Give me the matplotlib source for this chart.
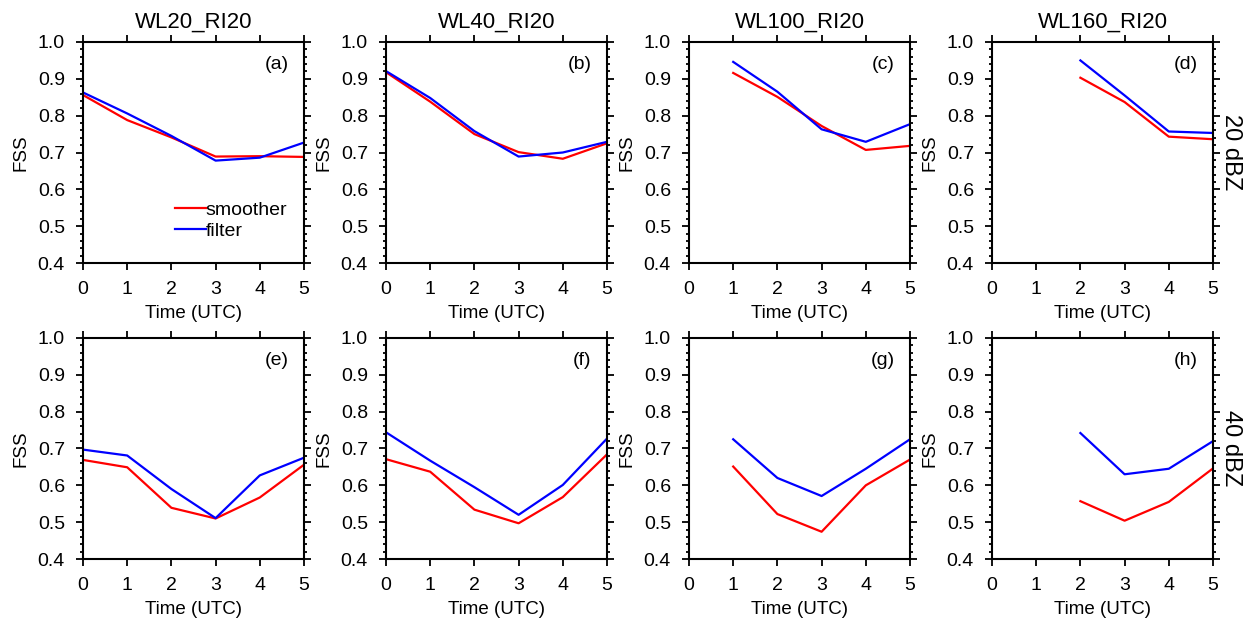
import matplotlib
matplotlib.use("Agg")
import matplotlib.pyplot as plt
from matplotlib.ticker import MultipleLocator

plt.rcParams['font.family'] = ['Liberation Sans', 'DejaVu Sans']

# Time axis (UTC hours)
hours = [0, 1, 2, 3, 4, 5]

titles = ['WL20_RI20', 'WL40_RI20', 'WL100_RI20', 'WL160_RI20']
panel_tags = ['(a)', '(b)', '(c)', '(d)', '(e)', '(f)', '(g)', '(h)']
row_labels = ['20 dBZ', '40 dBZ']

# start hour of each column's series
start_hour = [0, 0, 1, 2]

# 20 dBZ row
smoother_20 = [
    [0.856, 0.788, 0.741, 0.689, 0.690, 0.688],
    [0.918, 0.838, 0.750, 0.701, 0.683, 0.725],
    [0.916, 0.851, 0.772, 0.707, 0.718],
    [0.903, 0.837, 0.743, 0.736],
]
filter_20 = [
    [0.863, 0.806, 0.745, 0.678, 0.686, 0.727],
    [0.921, 0.848, 0.758, 0.689, 0.700, 0.729],
    [0.946, 0.865, 0.763, 0.729, 0.777],
    [0.950, 0.855, 0.757, 0.753],
]

# 40 dBZ row
smoother_40 = [
    [0.669, 0.649, 0.539, 0.510, 0.567, 0.656],
    [0.671, 0.637, 0.534, 0.497, 0.568, 0.684],
    [0.651, 0.522, 0.474, 0.600, 0.670],
    [0.557, 0.504, 0.555, 0.646],
]
filter_40 = [
    [0.697, 0.681, 0.590, 0.511, 0.627, 0.675],
    [0.744, 0.667, 0.595, 0.520, 0.601, 0.727],
    [0.725, 0.620, 0.571, 0.645, 0.725],
    [0.742, 0.630, 0.645, 0.720],
]

fig = plt.figure(figsize=(12.59, 6.25), dpi=100)
W, H = 1259.0, 625.0
lefts = [83, 386, 689, 992]
tops = [42, 338]
size = 221

rows = [(smoother_20, filter_20), (smoother_40, filter_40)]
for r, (smo, fil) in enumerate(rows):
    for c in range(4):
        ax = fig.add_axes([lefts[c] / W, 1 - (tops[r] + size) / H, size / W, size / H])
        x = hours[start_hour[c]:]
        ax.plot(x, smo[c], color='red', lw=1.6, label='smoother')
        ax.plot(x, fil[c], color='blue', lw=1.6, label='filter')

        ax.set_xlim(0, 5)
        ax.set_ylim(0.4, 1.0)
        ax.set_xticks(hours)
        ax.yaxis.set_major_locator(MultipleLocator(0.1))
        ax.yaxis.set_minor_locator(MultipleLocator(0.02))
        ax.tick_params(which='both', direction='out', top=True, right=True,
                       labelsize=14, width=1.3)
        ax.tick_params(which='major', length=5, pad=8)
        ax.tick_params(which='minor', length=2.5)
        for s in ax.spines.values():
            s.set_linewidth(1.5)

        ax.set_xlabel('Time (UTC)', fontsize=13.5, labelpad=5)
        ax.set_ylabel('FSS', fontsize=13.5, labelpad=6)
        ax.text(0.93, 0.9, panel_tags[r * 4 + c], transform=ax.transAxes,
                ha='right', va='center', fontsize=14)

        if r == 0:
            ax.set_title(titles[c], fontsize=16, pad=10)
        if c == 3:
            ax.text(1.08, 0.5, row_labels[r], transform=ax.transAxes, rotation=-90,
                    ha='center', va='center', fontsize=17)
        if r == 0 and c == 0:
            ax.legend(loc='lower left', bbox_to_anchor=(0.38, 0.07), frameon=False,
                      fontsize=14, handlelength=1.6, handletextpad=0.0,
                      labelspacing=0.15, borderaxespad=0)

fig.savefig('out.png', dpi=100)
